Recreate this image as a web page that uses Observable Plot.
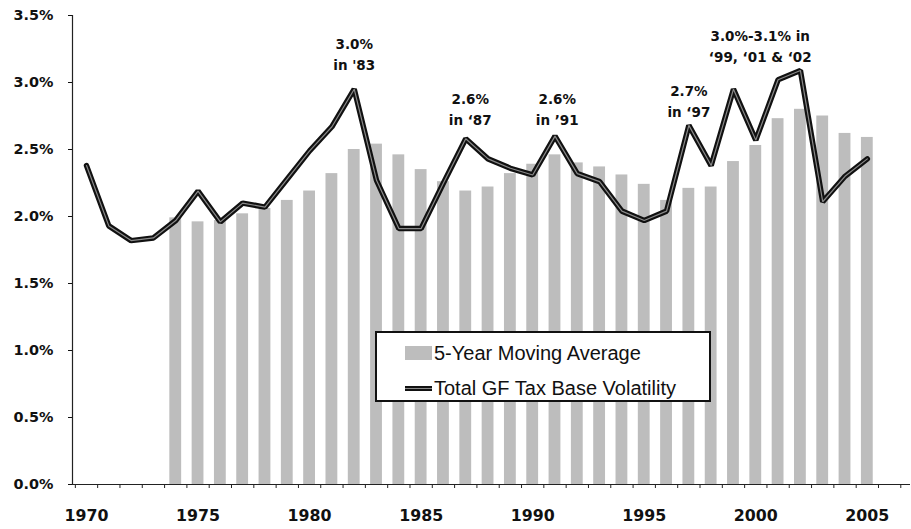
<!DOCTYPE html>
<html>
<head>
<meta charset="utf-8">
<script src="https://cdn.jsdelivr.net/npm/d3@7"></script>
<script src="https://cdn.jsdelivr.net/npm/@observablehq/plot@0.6"></script>
<style>
  html, body { margin: 0; padding: 0; background: #fff; }
  #wrap { position: relative; width: 911px; height: 529px; overflow: hidden; }
  #legend {
    position: absolute; left: 375px; top: 331px; width: 332px; height: 67px;
    border: 2px solid #111; background: #fff;
    font-family: "Liberation Sans", Arial, sans-serif; font-size: 20px; color: #111;
  }
  .row { position: absolute; left: 28px; height: 24px; display: flex; align-items: center; }
  .sw { width: 27px; height: 14px; margin-right: 2px; }
  .ln { width: 27px; height: 5px; margin-right: 2px; background: #111; position: relative; }
  .ln::after { content: ""; position: absolute; left: 0; right: 0; top: 2px; height: 1px; background: #8a8a8a; }
</style>
</head>
<body>
<div id="wrap"></div>
<script>
// ---- data ----
const lineYears = [1970,1971,1972,1973,1974,1975,1976,1977,1978,1979,1980,1981,1982,1983,1984,1985,1986,1987,1988,1989,1990,1991,1992,1993,1994,1995,1996,1997,1998,1999,2000,2001,2002,2003,2004,2005];
const volatility = [2.38,1.93,1.82,1.84,1.97,2.19,1.96,2.10,2.07,2.28,2.49,2.67,2.95,2.27,1.91,1.91,2.25,2.58,2.43,2.36,2.31,2.60,2.32,2.26,2.04,1.97,2.04,2.68,2.38,2.95,2.57,3.02,3.09,2.11,2.30,2.43];

const barYears = [1974,1975,1976,1977,1978,1979,1980,1981,1982,1983,1984,1985,1986,1987,1988,1989,1990,1991,1992,1993,1994,1995,1996,1997,1998,1999,2000,2001,2002,2003,2004,2005];
const movingAvg = [1.99,1.96,1.97,2.02,2.06,2.12,2.19,2.32,2.50,2.54,2.46,2.35,2.26,2.19,2.22,2.32,2.39,2.46,2.40,2.37,2.31,2.24,2.12,2.21,2.22,2.41,2.53,2.73,2.80,2.75,2.62,2.59];

const yTicks = [0, 0.5, 1.0, 1.5, 2.0, 2.5, 3.0, 3.5];
const xTickLabels = [1970, 1975, 1980, 1985, 1990, 1995, 2000, 2005];
const xBoundaryTicks = [1969.5,1970.5,1971.5,1972.5,1973.5,1974.5,1975.5,1976.5,1977.5,1978.5,1979.5,1980.5,1981.5,1982.5,1983.5,1984.5,1985.5,1986.5,1987.5,1988.5,1989.5,1990.5,1991.5,1992.5,1993.5,1994.5,1995.5,1996.5,1997.5,1998.5,1999.5,2000.5,2001.5,2002.5,2003.5,2004.5,2005.5,2006.5];

const noteYears = [1982, 1987.2, 1991.1, 1997, 2000.2];
const noteValues = [3.22, 2.81, 2.81, 2.87, 3.28];
const noteLabels = ["3.0%\nin '83", "2.6%\nin ‘87", "2.6%\nin ’91", "2.7%\nin ‘97", "3.0%-3.1% in\n‘99, ‘01 & ‘02"];

// ---- tables ----
const lineData = lineYears.map((year, i) => ({year, value: volatility[i]}));
const barData = barYears.map((year, i) => ({year, value: movingAvg[i]}));
const notes = noteYears.map((x, i) => ({x, y: noteValues[i], label: noteLabels[i]}));

const xDomain = [1969.3725, 2006.935];
const half = 0.265;

const chart = Plot.plot({
  width: 911,
  height: 529,
  marginLeft: 72,
  marginRight: 1,
  marginTop: 15,
  marginBottom: 45,
  x: {domain: xDomain},
  y: {domain: [0, 3.5]},
  style: {fontFamily: "'DejaVu Sans', sans-serif", background: "#fff", color: "#111"},
  marks: [
    Plot.rectY(barData, {x1: d => d.year - half, x2: d => d.year + half, y: "value", fill: "#bdbdbd"}),
    Plot.ruleY([0], {stroke: "#222", strokeWidth: 1.2}),
    Plot.ruleX([xDomain[0]], {stroke: "#222", strokeWidth: 1.2}),
    Plot.axisY({ticks: yTicks, tickSize: 4, tickPadding: 15, tickFormat: d => d.toFixed(1) + "%",
      fontSize: 14.4, fontWeight: "bold", label: null, color: "#111"}),
    Plot.axisX({ticks: xBoundaryTicks, tickSize: 4, tickFormat: () => "", label: null, color: "#222"}),
    Plot.axisX({ticks: xTickLabels, tickSize: 0, tickPadding: 25, tickFormat: d => String(d),
      fontSize: 15.8, fontWeight: "bold", label: null, color: "#111"}),
    Plot.line(lineData, {x: "year", y: "value", stroke: "#111", strokeWidth: 5.5, strokeLinejoin: "miter"}),
    Plot.line(lineData, {x: "year", y: "value", stroke: "#8a8a8a", strokeWidth: 1.2, strokeLinejoin: "miter"}),
    Plot.text(notes, {x: "x", y: "y", text: "label", fontSize: 13.5, fontWeight: "bold", lineHeight: 1.5, fill: "#111"})
  ]
});

const wrap = document.getElementById("wrap");
wrap.appendChild(chart);

const legend = document.createElement("div");
legend.id = "legend";
legend.innerHTML =
  '<div class="row" style="top:8px"><div class="sw" style="background:#bdbdbd"></div><span>5-Year Moving Average</span></div>' +
  '<div class="row" style="top:43px"><div class="ln"></div><span>Total GF Tax Base Volatility</span></div>';
wrap.appendChild(legend);
</script>
</body>
</html>
